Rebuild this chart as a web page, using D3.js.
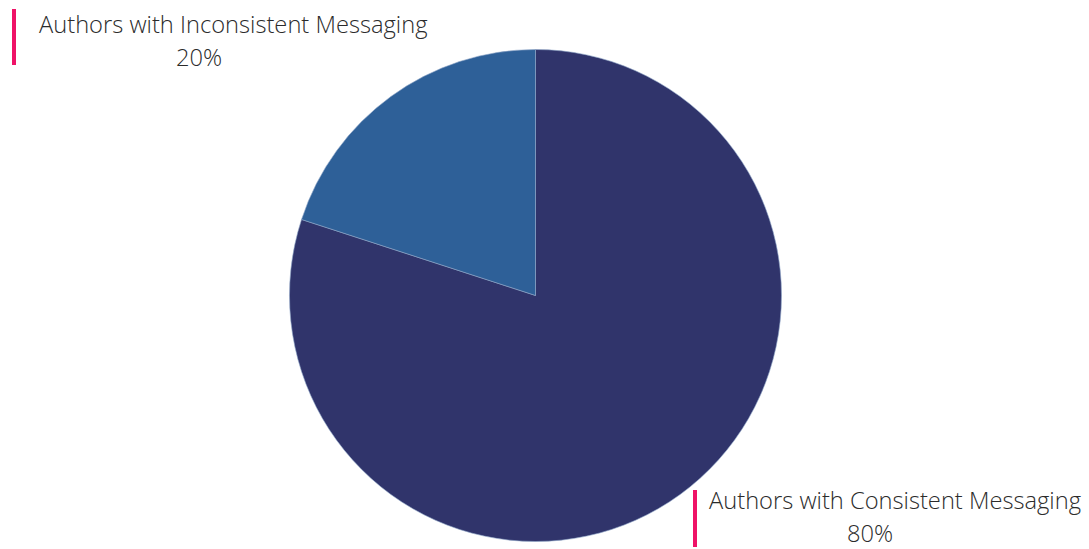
<!DOCTYPE html>
<html>
<head>
<meta charset="utf-8">
<script src="https://cdn.jsdelivr.net/npm/d3@7"></script>
<style>
  html, body { margin: 0; padding: 0; background: #ffffff; }
  svg { display: block; }
  text { font-family: "Open Sans", "Noto Sans", sans-serif; font-weight: 300; fill: #2b2b2b; }
</style>
</head>
<body>
<svg id="chart" width="1089" height="549"></svg>
<script>
const categories = ["Authors with Consistent Messaging", "Authors with Inconsistent Messaging"];
const values = [80, 20];
const valueLabels = ["80%", "20%"];
const colors = ["#30346b", "#2e6098"];

const svg = d3.select("#chart");
const cx = 535.5, cy = 295.5, radius = 246;

const pie = d3.pie().sort(null).value(d => d.value);
const arcs = pie(categories.map((c, i) => ({ name: c, value: values[i], label: valueLabels[i], color: colors[i] })));
const arc = d3.arc().innerRadius(0).outerRadius(radius);

const g = svg.append("g").attr("transform", `translate(${cx},${cy})`);
g.selectAll("path")
  .data(arcs)
  .join("path")
  .attr("d", arc)
  .attr("fill", d => d.data.color)
  .attr("stroke", "#8fa6c8")
  .attr("stroke-width", 0.6);

// Label placements (layout)
const labelPos = [
  { barX: 693, barY1: 490, barY2: 547, textX: 709, line1Y: 509, line2X: 870, line2Y: 542 },
  { barX: 12,  barY1: 9,   barY2: 65,  textX: 39,  line1Y: 32.5, line2X: 199, line2Y: 66 }
];

const labels = svg.selectAll("g.label")
  .data(arcs)
  .join("g")
  .attr("class", "label");

labels.append("rect")
  .attr("x", (d, i) => labelPos[i].barX)
  .attr("y", (d, i) => labelPos[i].barY1)
  .attr("width", 4)
  .attr("height", (d, i) => labelPos[i].barY2 - labelPos[i].barY1)
  .attr("fill", "#ef1267");

labels.append("text")
  .attr("x", (d, i) => labelPos[i].textX)
  .attr("y", (d, i) => labelPos[i].line1Y)
  .attr("font-size", 23.7)
  .text(d => d.data.name);

labels.append("text")
  .attr("x", (d, i) => labelPos[i].line2X)
  .attr("y", (d, i) => labelPos[i].line2Y)
  .attr("font-size", 23.7)
  .attr("text-anchor", "middle")
  .text(d => d.data.label);
</script>
</body>
</html>
